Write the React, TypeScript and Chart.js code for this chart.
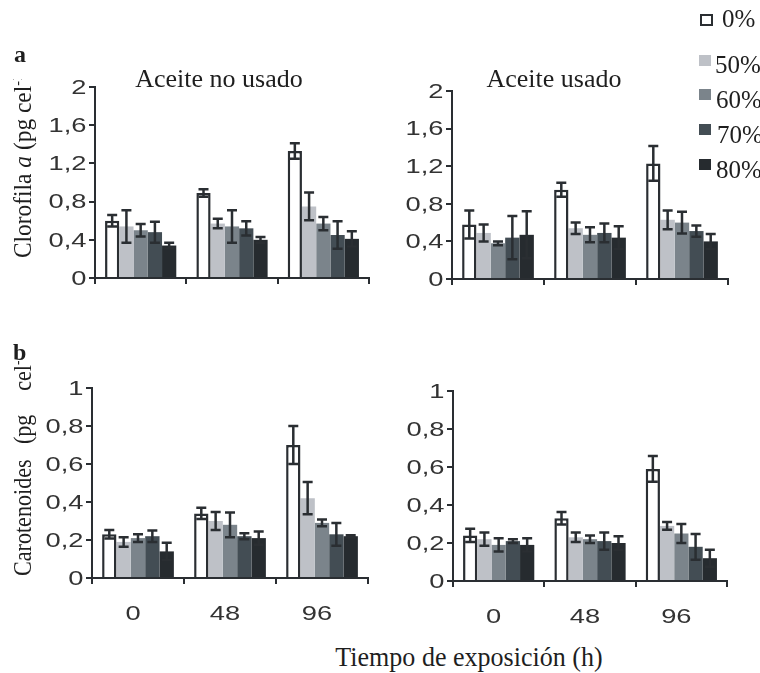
import React, { useEffect, useRef } from "react";
import { Chart, registerables } from "chart.js";

Chart.register(...registerables);

const categories = ["0", "48", "96"];
const seriesLabels = ["0%", "50%", "60%", "70%", "80%"];
const seriesFills = ["#ffffff", "#bec1c7", "#7b848b", "#434d54", "#262b2f"];
const DARK = "#2a2e32";

// Clorofila a — aceite no usado (per series, per category)
const chlNoUsado = [
  [0.6, 0.89, 1.33],
  [0.54, 0.57, 0.75],
  [0.5, 0.54, 0.57],
  [0.48, 0.52, 0.45],
  [0.34, 0.4, 0.41],
];
const chlNoUsadoErr = [
  [0.06, 0.04, 0.08],
  [0.17, 0.05, 0.145],
  [0.065, 0.17, 0.07],
  [0.11, 0.075, 0.145],
  [0.03, 0.03, 0.08],
];

// Clorofila a — aceite usado
const chlUsado = [
  [0.58, 0.95, 1.23],
  [0.49, 0.54, 0.63],
  [0.38, 0.47, 0.6],
  [0.44, 0.49, 0.51],
  [0.47, 0.44, 0.4],
];
const chlUsadoErr = [
  [0.15, 0.075, 0.185],
  [0.09, 0.06, 0.1],
  [0.02, 0.08, 0.115],
  [0.23, 0.1, 0.06],
  [0.25, 0.12, 0.08],
];

// Carotenoides — aceite no usado
const carNoUsado = [
  [0.23, 0.34, 0.7],
  [0.19, 0.3, 0.42],
  [0.21, 0.28, 0.29],
  [0.22, 0.22, 0.23],
  [0.14, 0.21, 0.22],
];
const carNoUsadoErr = [
  [0.022, 0.03, 0.1],
  [0.025, 0.048, 0.085],
  [0.02, 0.065, 0.018],
  [0.03, 0.016, 0.06],
  [0.045, 0.035, 0.005],
];

// Carotenoides — aceite usado
const carUsado = [
  [0.24, 0.33, 0.59],
  [0.22, 0.23, 0.29],
  [0.19, 0.22, 0.25],
  [0.21, 0.21, 0.18],
  [0.19, 0.2, 0.12],
];
const carUsadoErr = [
  [0.035, 0.033, 0.068],
  [0.035, 0.025, 0.02],
  [0.035, 0.02, 0.05],
  [0.01, 0.045, 0.068],
  [0.035, 0.035, 0.045],
];

const SANS = '"Liberation Sans", Arial, sans-serif';
const SERIF = '"Liberation Serif", "Times New Roman", serif';

const fmt = (v: number) => String(Number(Number(v).toFixed(2))).replace(".", ",");

const errorBarPlugin = {
  id: "errorBars",
  afterDatasetsDraw(chart: any) {
    const ctx = chart.ctx;
    const yScale = chart.scales.y;
    ctx.save();
    ctx.strokeStyle = DARK;
    ctx.lineWidth = 2.5;
    chart.data.datasets.forEach((ds: any, i: number) => {
      const meta = chart.getDatasetMeta(i);
      meta.data.forEach((bar: any, j: number) => {
        const v = ds.data[j];
        const e = ds.errors[j];
        const yTop = yScale.getPixelForValue(v + e);
        const yBot = yScale.getPixelForValue(v - e);
        const x = bar.x;
        const cap = 5;
        ctx.beginPath();
        ctx.moveTo(x, yTop);
        ctx.lineTo(x, yBot);
        ctx.moveTo(x - cap, yTop);
        ctx.lineTo(x + cap, yTop);
        ctx.moveTo(x - cap, yBot);
        ctx.lineTo(x + cap, yBot);
        ctx.stroke();
      });
    });
    ctx.restore();
  },
};

// Tick labels drawn from the library's own ticks, horizontally widened like the original
const STRETCH = 1.3;
const wideTickPlugin = {
  id: "wideTicks",
  afterDraw(chart: any, _args: any, opts: any) {
    const ctx = chart.ctx;
    const xs = chart.scales.x;
    const ys = chart.scales.y;
    const area = chart.chartArea;
    ctx.save();
    ctx.font = `21px ${SANS}`;
    ctx.fillStyle = "#333";
    ys.ticks.forEach((t: any) => {
      const y = ys.getPixelForValue(t.value);
      ctx.save();
      ctx.translate(area.left - 8.5, y + 1);
      ctx.scale(STRETCH, 1);
      ctx.textAlign = "right";
      ctx.textBaseline = "middle";
      ctx.fillText(fmt(t.value), 0, 0);
      ctx.restore();
    });
    if (opts && opts.showX) {
      xs.ticks.forEach((t: any, i: number) => {
        const x = xs.getPixelForTick(i) - 5;
        ctx.save();
        ctx.translate(x, area.bottom + 42);
        ctx.scale(STRETCH, 1);
        ctx.textAlign = "center";
        ctx.textBaseline = "alphabetic";
        ctx.fillText(String(xs.getLabelForValue(t.value)), 0, 0);
        ctx.restore();
      });
    }
    ctx.restore();
  },
};

const PADL = 70;
const PADT = 20;
const PADR = 10;
const PADB = 55;

type PanelProps = {
  L: number;
  T: number;
  R: number;
  B: number;
  values: number[][];
  errors: number[][];
  yMax: number;
  step: number;
  showX: boolean;
};

function Panel({ L, T, R, B, values, errors, yMax, step, showX }: PanelProps) {
  const ref = useRef<HTMLCanvasElement>(null);
  const w = R - L + PADL + PADR;
  const h = B - T + PADT + PADB;
  useEffect(() => {
    const chart = new Chart(ref.current as HTMLCanvasElement, {
      type: "bar",
      data: {
        labels: categories,
        datasets: seriesLabels.map((s, i) => ({
          label: s,
          data: values[i],
          errors: errors[i],
          backgroundColor: seriesFills[i],
          borderColor: i === 0 ? DARK : seriesFills[i],
          borderWidth: i === 0 ? 2.5 : 0,
          barPercentage: 1,
          categoryPercentage: 0.78,
        })) as any,
      },
      options: {
        responsive: false,
        animation: false,
        layout: { padding: { left: 0, top: PADT, right: PADR, bottom: 0 } },
        plugins: {
          legend: { display: false },
          tooltip: { enabled: false },
          wideTicks: { showX },
        },
        scales: {
          x: {
            type: "category",
            offset: true,
            grid: {
              display: true,
              drawOnChartArea: false,
              offset: true,
              tickLength: 6,
              color: DARK,
              lineWidth: 2,
            },
            border: { display: true, color: DARK, width: 2 },
            ticks: { display: false },
            afterFit: (s: any) => {
              s.height = PADB;
            },
          },
          y: {
            min: 0,
            max: yMax,
            grid: {
              display: true,
              drawOnChartArea: false,
              tickLength: 6,
              color: DARK,
              lineWidth: 2,
            },
            border: { display: true, color: DARK, width: 2 },
            ticks: { display: false, stepSize: step },
            afterFit: (s: any) => {
              s.width = PADL;
            },
          },
        },
      } as any,
      plugins: [errorBarPlugin, wideTickPlugin],
    });
    return () => chart.destroy();
  }, []);
  return (
    <canvas
      ref={ref}
      width={w}
      height={h}
      style={{ position: "absolute", left: L - PADL, top: T - PADT, width: w, height: h }}
    />
  );
}

const textBase: React.CSSProperties = {
  position: "absolute",
  lineHeight: 1,
  whiteSpace: "nowrap",
  color: "#1e1e1e",
};

const supStyle: React.CSSProperties = {
  fontSize: "60%",
  position: "relative",
  top: "-0.55em",
  lineHeight: 0,
  verticalAlign: "baseline",
};

const legendSquares = [
  { top: 14, left: 700, w: 13, h: 12 },
  { top: 55, left: 699, w: 12, h: 11 },
  { top: 89, left: 699, w: 12, h: 11 },
  { top: 124, left: 699, w: 12, h: 11 },
  { top: 159, left: 699, w: 12, h: 11 },
];
const legendText = [
  { top: 6, left: 722 },
  { top: 52, left: 715 },
  { top: 87, left: 716 },
  { top: 122, left: 717 },
  { top: 157, left: 716 },
];

export default function App() {
  return (
    <div
      style={{
        position: "absolute",
        left: 0,
        top: 0,
        width: 760,
        height: 673,
        background: "#fff",
        overflow: "hidden",
      }}
    >
      <Panel L={95} T={87} R={369} B={278} values={chlNoUsado} errors={chlNoUsadoErr} yMax={2} step={0.4} showX={false} />
      <Panel L={452} T={91} R={728} B={279} values={chlUsado} errors={chlUsadoErr} yMax={2} step={0.4} showX={false} />
      <Panel L={92} T={388} R={368} B={578} values={carNoUsado} errors={carNoUsadoErr} yMax={1} step={0.2} showX={true} />
      <Panel L={453} T={391} R={727} B={581} values={carUsado} errors={carUsadoErr} yMax={1} step={0.2} showX={true} />

      {/* panel titles */}
      <div style={{ ...textBase, fontFamily: SERIF, fontSize: 26, left: 219, top: 66, transform: "translateX(-50%)" }}>
        Aceite no usado
      </div>
      <div style={{ ...textBase, fontFamily: SERIF, fontSize: 26, left: 554, top: 66, transform: "translateX(-50%)" }}>
        Aceite usado
      </div>

      {/* y titles (clipped at top as in the original) */}
      <div style={{ position: "absolute", left: 0, top: 79, width: 60, height: 200, overflow: "hidden" }}>
        <div
          style={{
            ...textBase,
            fontFamily: SERIF,
            fontSize: 26,
            left: 10,
            top: 258 - 79,
            transformOrigin: "0 0",
            transform: "rotate(-90deg) scaleX(0.9)",
          }}
        >
          Clorofila <i>a</i> (pg cel<span style={supStyle}>-1</span>)
        </div>
      </div>
      <div style={{ position: "absolute", left: 0, top: 361, width: 60, height: 230, overflow: "hidden" }}>
        <div
          style={{
            ...textBase,
            fontFamily: SERIF,
            fontSize: 26,
            left: 10,
            top: 576 - 361,
            transformOrigin: "0 0",
            transform: "rotate(-90deg) scaleX(0.85)",
          }}
        >
          Carotenoides<span style={{ marginLeft: 18 }}>(pg</span>
          <span style={{ marginLeft: 28 }}>
            cel<span style={supStyle}>-1</span>)
          </span>
        </div>
      </div>

      {/* panel letters */}
      <div style={{ ...textBase, fontFamily: SERIF, fontSize: 24, fontWeight: "bold", left: 14, top: 42 }}>a</div>
      <div style={{ ...textBase, fontFamily: SERIF, fontSize: 24, fontWeight: "bold", left: 13, top: 340 }}>b</div>

      {/* x title */}
      <div
        style={{
          ...textBase,
          fontFamily: SERIF,
          fontSize: 28,
          left: 469,
          top: 643,
          transform: "translateX(-50%) scaleX(0.93)",
        }}
      >
        Tiempo de exposición (h)
      </div>

      {/* legend */}
      {seriesLabels.map((s, i) => (
        <React.Fragment key={s}>
          <div
            style={{
              position: "absolute",
              left: legendSquares[i].left,
              top: legendSquares[i].top,
              width: legendSquares[i].w,
              height: legendSquares[i].h,
              boxSizing: "border-box",
              background: seriesFills[i],
              border: i === 0 ? `2.5px solid ${DARK}` : "none",
            }}
          />
          <div
            style={{
              ...textBase,
              fontFamily: SERIF,
              fontSize: 25,
              left: legendText[i].left,
              top: legendText[i].top,
            }}
          >
            {s}
          </div>
        </React.Fragment>
      ))}
    </div>
  );
}
